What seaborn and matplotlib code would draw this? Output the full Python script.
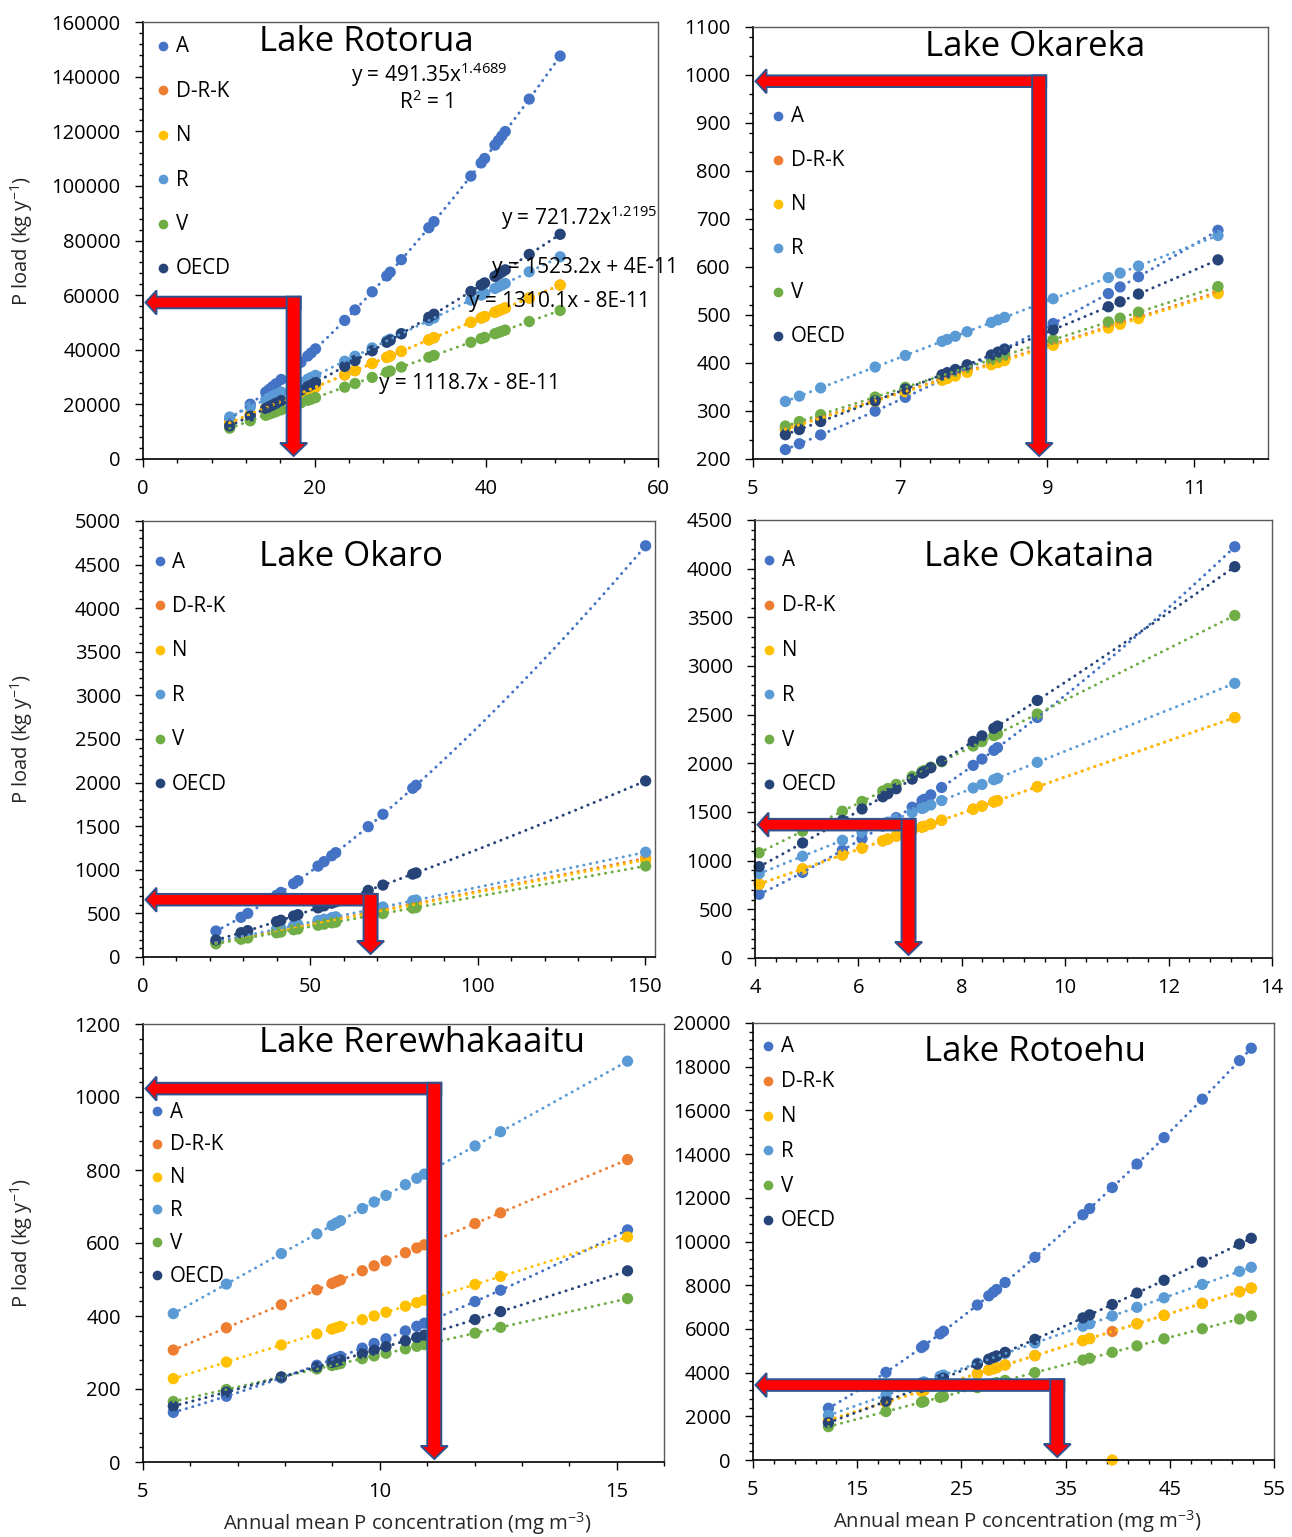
import numpy as np
import pandas as pd
import matplotlib
matplotlib.use("Agg")
import matplotlib.pyplot as plt
from matplotlib.patches import Polygon
from matplotlib.lines import Line2D
from matplotlib.ticker import StrMethodFormatter
import seaborn as sns

sns.set_style("white")
plt.rcParams["font.family"] = ["Open Sans", "DejaVu Sans"]
plt.rcParams["mathtext.fontset"] = "custom"
plt.rcParams["mathtext.rm"] = "Open Sans"
plt.rcParams["mathtext.it"] = "Open Sans:italic"
plt.rcParams["mathtext.bf"] = "Open Sans:bold"

SERIES = ["A", "D-R-K", "N", "R", "V", "OECD"]
COLORS = {"A": "#4472C4", "D-R-K": "#ED7D31", "N": "#FFC000",
          "R": "#5B9BD5", "V": "#70AD47", "OECD": "#264478"}
POWER_FIT = {"A", "OECD"}

# ---------------- Lake Rotorua ----------------
rotorua_x = [10.1, 12.5, 14.3, 14.7, 15.1, 15.5, 16.1, 18.4, 19.2, 19.6, 20.1, 23.5, 24.7, 26.7,
             28.4, 28.8, 30.1, 33.3, 33.9, 38.2, 39.4, 39.8, 41.0, 41.4, 41.8, 42.2, 45.0, 48.6]
rotorua_A = [14677, 20072, 24460, 25472, 26498, 27530, 29112, 35426, 37711, 38856, 40330, 50742,
             54589, 61208, 67015, 68406, 72990, 84674, 86910, 103577, 108397, 110024, 114927,
             116583, 118239, 119896, 131776, 147524]
rotorua_DRK = [13232, 16376, 18734, 19258, 19783, 20307, 21093, 24106, 25154, 25678, 26333, 30787,
               32359, 34980, 37207, 37731, 39434, 43626, 44412, 50046, 51618, 52142, 53714, 54238,
               54762, 55286, 58955, 63671]
rotorua_N = [13232, 16376, 18734, 19258, 19783, 20307, 21093, 24106, 25154, 25678, 26333, 30787,
             32359, 34980, 37207, 37731, 39434, 43626, 44412, 50046, 51618, 52142, 53714, 54238,
             54762, 55286, 58955, 63671]
rotorua_R = [15384, 19040, 21782, 22391, 23000, 23610, 24524, 28027, 29245, 29855, 30616, 35795,
             37623, 40669, 43259, 43868, 45848, 50723, 51636, 58186, 60014, 60623, 62451, 63060,
             63670, 64279, 68544, 74028]
rotorua_V = [11299, 13984, 15997, 16445, 16892, 17340, 18011, 20584, 21479, 21927, 22486, 26289,
             27632, 29869, 31771, 32219, 33673, 37253, 37924, 42734, 44077, 44524, 45867, 46314,
             46762, 47209, 50342, 54369]
rotorua_OECD = [12110, 15705, 18505, 19140, 19775, 20417, 21385, 25166, 26509, 27180, 28032, 33914,
                36035, 39630, 42726, 43462, 45865, 51884, 53018, 61332, 63692, 64479, 66860, 67661,
                68455, 69256, 74900, 82269]

# ---------------- Lake Okareka ----------------
okareka_x = [5.44, 5.63, 5.92, 6.66, 7.07, 7.57, 7.64, 7.75, 7.91, 8.24, 8.33, 8.42, 9.08, 9.83,
             9.99, 10.24, 11.32]
okareka_A = [219.7, 231.7, 250.2, 299.7, 328.5, 364.8, 370.0, 378.2, 390.3, 415.5, 422.5, 429.5,
             482.2, 544.6, 558.4, 579.8, 676.4]
okareka_DRK = [263.3, 272.5, 286.5, 322.3, 342.2, 366.4, 369.8, 375.1, 382.8, 398.8, 403.2, 407.5,
               439.5, 475.8, 483.5, 495.6, 547.9]
okareka_N = [261.7, 270.8, 284.8, 320.3, 340.1, 364.1, 367.5, 372.8, 380.5, 396.3, 400.7, 405.0,
             436.7, 472.8, 480.5, 492.5, 544.5]
okareka_R = [319.9, 331.0, 348.1, 391.6, 415.7, 445.1, 449.2, 455.7, 465.1, 484.5, 489.8, 495.1,
             533.9, 578.0, 587.4, 602.1, 665.6]
okareka_V = [268.7, 278.1, 292.4, 329.0, 349.3, 374.0, 377.4, 382.9, 390.8, 407.1, 411.5, 415.9,
             448.6, 485.6, 493.5, 505.9, 559.2]
okareka_OECD = [250.6, 261.4, 278.0, 321.0, 345.6, 375.5, 379.9, 386.5, 396.3, 416.7, 422.4, 427.8,
                469.4, 517.2, 527.6, 543.7, 614.9]

# ---------------- Lake Okaro ----------------
okaro_x = [21.8, 29.3, 31.3, 39.9, 41.2, 45.0, 46.3, 52.3, 54.1, 56.4, 57.6, 67.3, 71.7, 80.6,
           81.6, 150.2]
okaro_A = [297.9, 454.8, 499.8, 707.5, 740.8, 840.4, 875.2, 1042.1, 1093.7, 1160.9, 1196.4,
           1495.0, 1636.6, 1935.0, 1969.4, 4715.8]
okaro_DRK = [164.4, 220.9, 236.0, 300.8, 310.6, 339.3, 349.1, 394.3, 407.9, 425.3, 434.3, 507.4,
             540.6, 607.7, 615.3, 1132.5]
okaro_N = [161.5, 217.1, 231.9, 295.7, 305.3, 333.5, 343.1, 387.5, 400.9, 417.9, 426.8, 498.7,
           531.3, 597.2, 604.7, 1113.0]
okaro_R = [174.4, 234.4, 250.4, 319.2, 329.6, 360.0, 370.4, 418.4, 432.8, 451.2, 460.8, 538.4,
           573.6, 644.8, 652.8, 1201.6]
okaro_V = [151.5, 203.6, 217.5, 277.3, 286.3, 312.8, 321.8, 363.5, 376.0, 392.0, 400.3, 467.7,
           498.3, 560.2, 567.1, 1043.9]
okaro_OECD = [195.1, 279.1, 302.3, 405.6, 421.7, 469.2, 485.6, 562.9, 586.4, 616.8, 632.6, 763.9,
              824.8, 950.4, 964.7, 2019.7]

# ---------------- Lake Okataina ----------------
okataina_x = [4.08, 4.92, 5.69, 6.07, 6.47, 6.57, 6.73, 7.04, 7.23, 7.27, 7.40, 7.61, 8.22, 8.39,
              8.62, 8.69, 9.46, 13.28]
okataina_A = [653.8, 879.1, 1106.3, 1225.5, 1355.4, 1388.7, 1442.6, 1549.0, 1615.4, 1629.6, 1676.1,
              1751.8, 1978.9, 2044.0, 2133.3, 2160.9, 2471.4, 4225.1]
okataina_DRK = [758.9, 915.1, 1058.3, 1129.0, 1203.4, 1222.0, 1251.8, 1309.4, 1344.8, 1352.2,
                1376.4, 1415.5, 1528.9, 1560.5, 1603.3, 1616.3, 1759.6, 2470.1]
okataina_N = [758.9, 915.1, 1058.3, 1129.0, 1203.4, 1222.0, 1251.8, 1309.4, 1344.8, 1352.2,
              1376.4, 1415.5, 1528.9, 1560.5, 1603.3, 1616.3, 1759.6, 2470.1]
okataina_R = [867.0, 1045.5, 1209.1, 1289.9, 1374.9, 1396.1, 1430.1, 1496.0, 1536.4, 1544.9,
              1572.5, 1617.1, 1746.8, 1782.9, 1831.8, 1846.6, 2010.3, 2822.0]
okataina_V = [1081.2, 1303.8, 1507.9, 1608.6, 1714.6, 1741.1, 1783.5, 1865.6, 1916.0, 1926.6,
              1961.0, 2016.7, 2178.3, 2223.4, 2284.3, 2302.9, 2506.9, 3519.2]
okataina_OECD = [938.2, 1181.6, 1413.8, 1531.2, 1656.5, 1688.0, 1738.9, 1838.1, 1899.4, 1912.3,
                 1954.6, 2023.4, 2225.2, 2282.0, 2359.6, 2383.1, 2646.2, 4020.2]

# ---------------- Lake Rerewhakaaitu ----------------
rerew_x = [5.64, 6.76, 7.92, 8.67, 8.99, 9.08, 9.17, 9.63, 9.88, 10.13, 10.54, 10.78, 10.94, 12.01,
           12.55, 15.23]
rerew_A = [135.9, 180.1, 230.3, 265.1, 280.4, 284.8, 289.2, 312.0, 324.7, 337.6, 359.0, 371.8,
           380.3, 439.7, 470.7, 635.9]
rerew_DRK = [306.8, 367.7, 430.8, 471.6, 489.1, 494.0, 498.8, 523.9, 537.5, 551.1, 573.4, 586.4,
             595.1, 653.3, 682.7, 828.5]
rerew_N = [228.4, 273.8, 320.8, 351.1, 364.1, 367.7, 371.4, 390.0, 400.1, 410.3, 426.9, 436.6,
           443.1, 486.4, 508.3, 616.8]
rerew_R = [406.6, 487.4, 571.0, 625.1, 648.2, 654.7, 661.2, 694.3, 712.3, 730.4, 759.9, 777.2,
           788.8, 865.9, 904.9, 1098.1]
rerew_V = [165.8, 198.7, 232.8, 254.9, 264.3, 267.0, 269.6, 283.1, 290.5, 297.8, 309.9, 316.9,
           321.6, 353.1, 369.0, 447.8]
rerew_OECD = [153.0, 191.5, 233.0, 260.6, 272.6, 276.0, 279.4, 296.9, 306.4, 316.1, 332.0, 341.4,
              347.7, 390.3, 412.1, 523.8]

# ---------------- Lake Rotoehu ----------------
rotoehu_x = [12.24, 17.76, 21.17, 21.40, 22.95, 23.28, 26.53, 27.63, 28.05, 28.38, 29.19, 32.05,
             36.66, 37.31, 39.48, 41.85, 44.45, 48.12, 51.69, 52.82]
rotoehu_A = [2367, 4013, 5149, 5230, 5775, 5893, 7094, 7514, 7677, 7805, 8123, 9276, 11225, 11508,
             12470, 13545, 14756, 16513, 18279, 18846]
rotoehu_DRK = [1824, 2646, 3154, 3189, 3420, 3469, 3953, 4117, 4180, 4229, 4349, 4776, 5462, 5559,
               5883, 6236, 6623, 7170, 7702, 7870]
rotoehu_N = [1824, 2646, 3154, 3189, 3420, 3469, 3953, 4117, 4180, 4229, 4349, 4776, 5462, 5559,
             0, 6236, 6623, 7170, 7702, 7870]
rotoehu_R = [2044, 2966, 3535, 3574, 3833, 3888, 4431, 4614, 4684, 4740, 4875, 5352, 6122, 6231,
             6593, 6989, 7423, 8036, 8632, 8821]
rotoehu_V = [1528, 2216, 2642, 2671, 2864, 2905, 3311, 3448, 3501, 3542, 3643, 4000, 4575, 4656,
             4927, 5223, 5547, 6005, 6451, 6592]
rotoehu_OECD = [1709, 2690, 3331, 3376, 3676, 3741, 4386, 4608, 4694, 4762, 4927, 5522, 6504, 6644,
                7118, 7641, 8224, 9058, 9884, 10147]

# Trend-line equations shown on the Rotorua panel: (text, left px, centre px)
rotorua_eqs = [
    (r"y = 491.35x$^{\mathregular{1.4689}}$", 351, 75),
    (r"R$^{\mathregular{2}}$ = 1", 399, 102),
    (r"y = 721.72x$^{\mathregular{1.2195}}$", 501, 218),
    ("y = 1523.2x + 4E-11", 492, 267),
    ("y = 1310.1x - 8E-11", 469, 301),
    ("y = 1118.7x - 8E-11", 379, 384),
]

W, H = 1292, 1537
fig = plt.figure(figsize=(W / 100, H / 100), dpi=100)


def fx(px):
    return px / W


def fy(py):
    return 1 - py / H


panels = [
    dict(title="Lake Rotorua", x=rotorua_x,
         ys=[rotorua_A, rotorua_DRK, rotorua_N, rotorua_R, rotorua_V, rotorua_OECD],
         box=(143, 22, 658, 459), xlim=(0, 60), ylim=(0, 160000),
         xmaj=np.arange(0, 61, 20), xmin=np.arange(0, 60.1, 4),
         ymaj=np.arange(0, 160001, 20000), ymin=np.arange(0, 160001, 4000),
         title_pos=(259, 42), leg=(163, 176, 46, 44.4), arrow=(17.55, 57300),
         ylabel=True, xlabel=False),
    dict(title="Lake Okareka", x=okareka_x,
         ys=[okareka_A, okareka_DRK, okareka_N, okareka_R, okareka_V, okareka_OECD],
         box=(753, 27, 1268, 459), xlim=(5, 12), ylim=(200, 1100),
         xmaj=np.arange(5, 12.1, 2), xmin=np.arange(5, 12.01, 0.4),
         ymaj=np.arange(200, 1101, 100), ymin=np.arange(200, 1101, 40),
         title_pos=(925, 47), leg=(778, 791, 116, 44.0), arrow=(8.89, 987),
         ylabel=False, xlabel=False),
    dict(title="Lake Okaro", x=okaro_x,
         ys=[okaro_A, okaro_DRK, okaro_N, okaro_R, okaro_V, okaro_OECD],
         box=(143, 521, 655, 957), xlim=(0, 153), ylim=(0, 5000),
         xmaj=np.arange(0, 151, 50), xmin=np.arange(0, 151, 10),
         ymaj=np.arange(0, 5001, 500), ymin=np.arange(0, 5001, 100),
         title_pos=(259, 557), leg=(160, 172, 561, 44.4), arrow=(68, 657),
         ylabel=True, xlabel=False),
    dict(title="Lake Okataina", x=okataina_x,
         ys=[okataina_A, okataina_DRK, okataina_N, okataina_R, okataina_V, okataina_OECD],
         box=(755, 520, 1272, 958), xlim=(4, 14), ylim=(0, 4500),
         xmaj=np.arange(4, 14.1, 2), xmin=np.arange(4, 14.01, 0.4),
         ymaj=np.arange(0, 4501, 500), ymin=np.arange(0, 4501, 100),
         title_pos=(924, 557), leg=(769, 782, 560, 44.8), arrow=(6.97, 1370),
         ylabel=False, xlabel=False),
    dict(title="Lake Rerewhakaaitu", x=rerew_x,
         ys=[rerew_A, rerew_DRK, rerew_N, rerew_R, rerew_V, rerew_OECD],
         box=(143, 1024, 664, 1462), xlim=(5, 16), ylim=(0, 1200),
         xmaj=np.arange(5, 16, 5), xmin=np.arange(5, 16.01, 1),
         ymaj=np.arange(0, 1201, 200), ymin=np.arange(0, 1201, 40),
         title_pos=(259, 1043), leg=(157, 170, 1111, 32.8), arrow=(11.15, 1023),
         ylabel=True, xlabel=True),
    dict(title="Lake Rotoehu", x=rotoehu_x,
         ys=[rotoehu_A, rotoehu_DRK, rotoehu_N, rotoehu_R, rotoehu_V, rotoehu_OECD],
         box=(753, 1023, 1274, 1460), xlim=(5, 55), ylim=(0, 20000),
         xmaj=np.arange(5, 56, 10), xmin=np.arange(5, 55.1, 2),
         ymaj=np.arange(0, 20001, 2000), ymin=np.arange(0, 20001, 400),
         title_pos=(924, 1052), leg=(768, 781, 1046, 34.8), arrow=(34.2, 3430),
         ylabel=False, xlabel=True),
]

ARROW_FILL = "#FF0000"
ARROW_EDGE = "#2F528F"


def draw_arrow(ax, xc, yc):
    """L-shaped marker: one arrow to the y axis, one down to the x axis."""
    T = ax.transData
    cx, cy = T.transform((xc, yc))
    x0, y0 = ax.bbox.x0, ax.bbox.y0
    hs, vs = 5.8, 7.0          # half thickness of the two shafts
    hh, hl = 12.0, 11.0        # horizontal head half height / length
    vh, vl = 13.5, 13.0        # vertical head half width / length
    tipx = x0 + 2.5
    tipy = y0 + 3.0
    horiz = [(tipx, cy), (tipx + hl, cy + hh), (tipx + hl, cy + hs), (cx + vs, cy + hs),
             (cx + vs, cy - hs), (tipx + hl, cy - hs), (tipx + hl, cy - hh)]
    vert = [(cx - vs, cy + hs), (cx + vs, cy + hs), (cx + vs, tipy + vl), (cx + vh, tipy + vl),
            (cx, tipy), (cx - vh, tipy + vl), (cx - vs, tipy + vl)]
    inv = T.inverted()
    for pts, z in ((horiz, 6), (vert, 7)):
        poly = Polygon(inv.transform(np.array(pts)), closed=True, facecolor=ARROW_FILL,
                       edgecolor=ARROW_EDGE, linewidth=1.4, clip_on=False, zorder=z)
        ax.add_patch(poly)


for p in panels:
    l, t, r, b = p["box"]
    ax = fig.add_axes([fx(l), fy(b), (r - l) / W, (b - t) / H])

    frames = []
    for name, yv in zip(SERIES, p["ys"]):
        frames.append(pd.DataFrame({"conc": p["x"], "load": yv, "series": name}))
    df = pd.concat(frames, ignore_index=True)

    sns.scatterplot(data=df, x="conc", y="load", hue="series", hue_order=SERIES,
                    palette=COLORS, s=66, linewidth=0, legend=False, ax=ax, zorder=2,
                    clip_on=False)

    # dotted trend lines fitted to each series
    for name, yv in zip(SERIES, p["ys"]):
        xs = np.asarray(p["x"], dtype=float)
        ys = np.asarray(yv, dtype=float)
        ok = ys > 0
        xs, ys = xs[ok], ys[ok]
        xx = np.linspace(xs.min(), xs.max(), 300)
        if name in POWER_FIT:
            k, c = np.polyfit(np.log(xs), np.log(ys), 1)
            yy = np.exp(c) * xx ** k
        else:
            yy = np.polyval(np.polyfit(xs, ys, 1), xx)
        ax.plot(xx, yy, color=COLORS[name], linestyle=(0, (0.1, 2.2)), linewidth=2.1,
                dash_capstyle="round", zorder=3)

    ax.set_xlim(*p["xlim"])
    ax.set_ylim(*p["ylim"])
    ax.set_xticks(p["xmaj"])
    ax.set_xticks(p["xmin"], minor=True)
    ax.set_yticks(p["ymaj"])
    ax.set_yticks(p["ymin"], minor=True)
    ax.xaxis.set_major_formatter(StrMethodFormatter("{x:.0f}"))
    ax.yaxis.set_major_formatter(StrMethodFormatter("{x:.0f}"))
    ax.set_xlabel("")
    ax.set_ylabel("")
    ax.tick_params(which="both", direction="out", left=True, bottom=True, top=False,
                   right=False, color="black", width=1.0)
    ax.tick_params(which="major", length=5.5, labelsize=14.5, labelcolor="black")
    ax.tick_params(which="minor", length=3.2)
    ax.tick_params(axis="y", which="major", pad=10.5)
    ax.tick_params(axis="x", which="major", pad=9)
    for side in ("left", "bottom"):
        ax.spines[side].set_color("black")
        ax.spines[side].set_linewidth(1.2)
    for side in ("top", "right"):
        ax.spines[side].set_color("#595959")
        ax.spines[side].set_linewidth(1.0)
    ax.set_facecolor("white")

    # title inside the plot area
    tx, ty = p["title_pos"]
    fig.text(fx(tx), fy(ty), p["title"], fontsize=25, ha="left", va="center", color="black",
             zorder=8)

    # legend: markers with labels stacked down the left side
    mx, lx, ly0, ldy = p["leg"]
    for i, name in enumerate(SERIES):
        yy = ly0 + i * ldy
        fig.add_artist(Line2D([fx(mx)], [fy(yy)], marker="o", markersize=7.0, linestyle="none",
                              color=COLORS[name], markeredgewidth=0, transform=fig.transFigure))
        fig.text(fx(lx), fy(yy + 1), name, fontsize=14.8, ha="left", va="center", color="black")

    draw_arrow(ax, *p["arrow"])

    if p["ylabel"]:
        fig.text(fx(22), fy((t + b) / 2), r"P load (kg y$^{\mathregular{-1}}$)", rotation=90,
                 fontsize=14.5, ha="center", va="center")
    if p["xlabel"]:
        fig.text(fx((l + r) / 2 + 4), fy(b + 62),
                 r"Annual mean P concentration (mg m$^{\mathregular{-3}}$)",
                 fontsize=14.6, ha="center", va="center")

    if p["title"] == "Lake Rotorua":
        for s, ex, ey in rotorua_eqs:
            fig.text(fx(ex), fy(ey), s, fontsize=15, ha="left", va="center", color="black",
                     zorder=9)

fig.savefig("out.png", dpi=100, facecolor="white")
